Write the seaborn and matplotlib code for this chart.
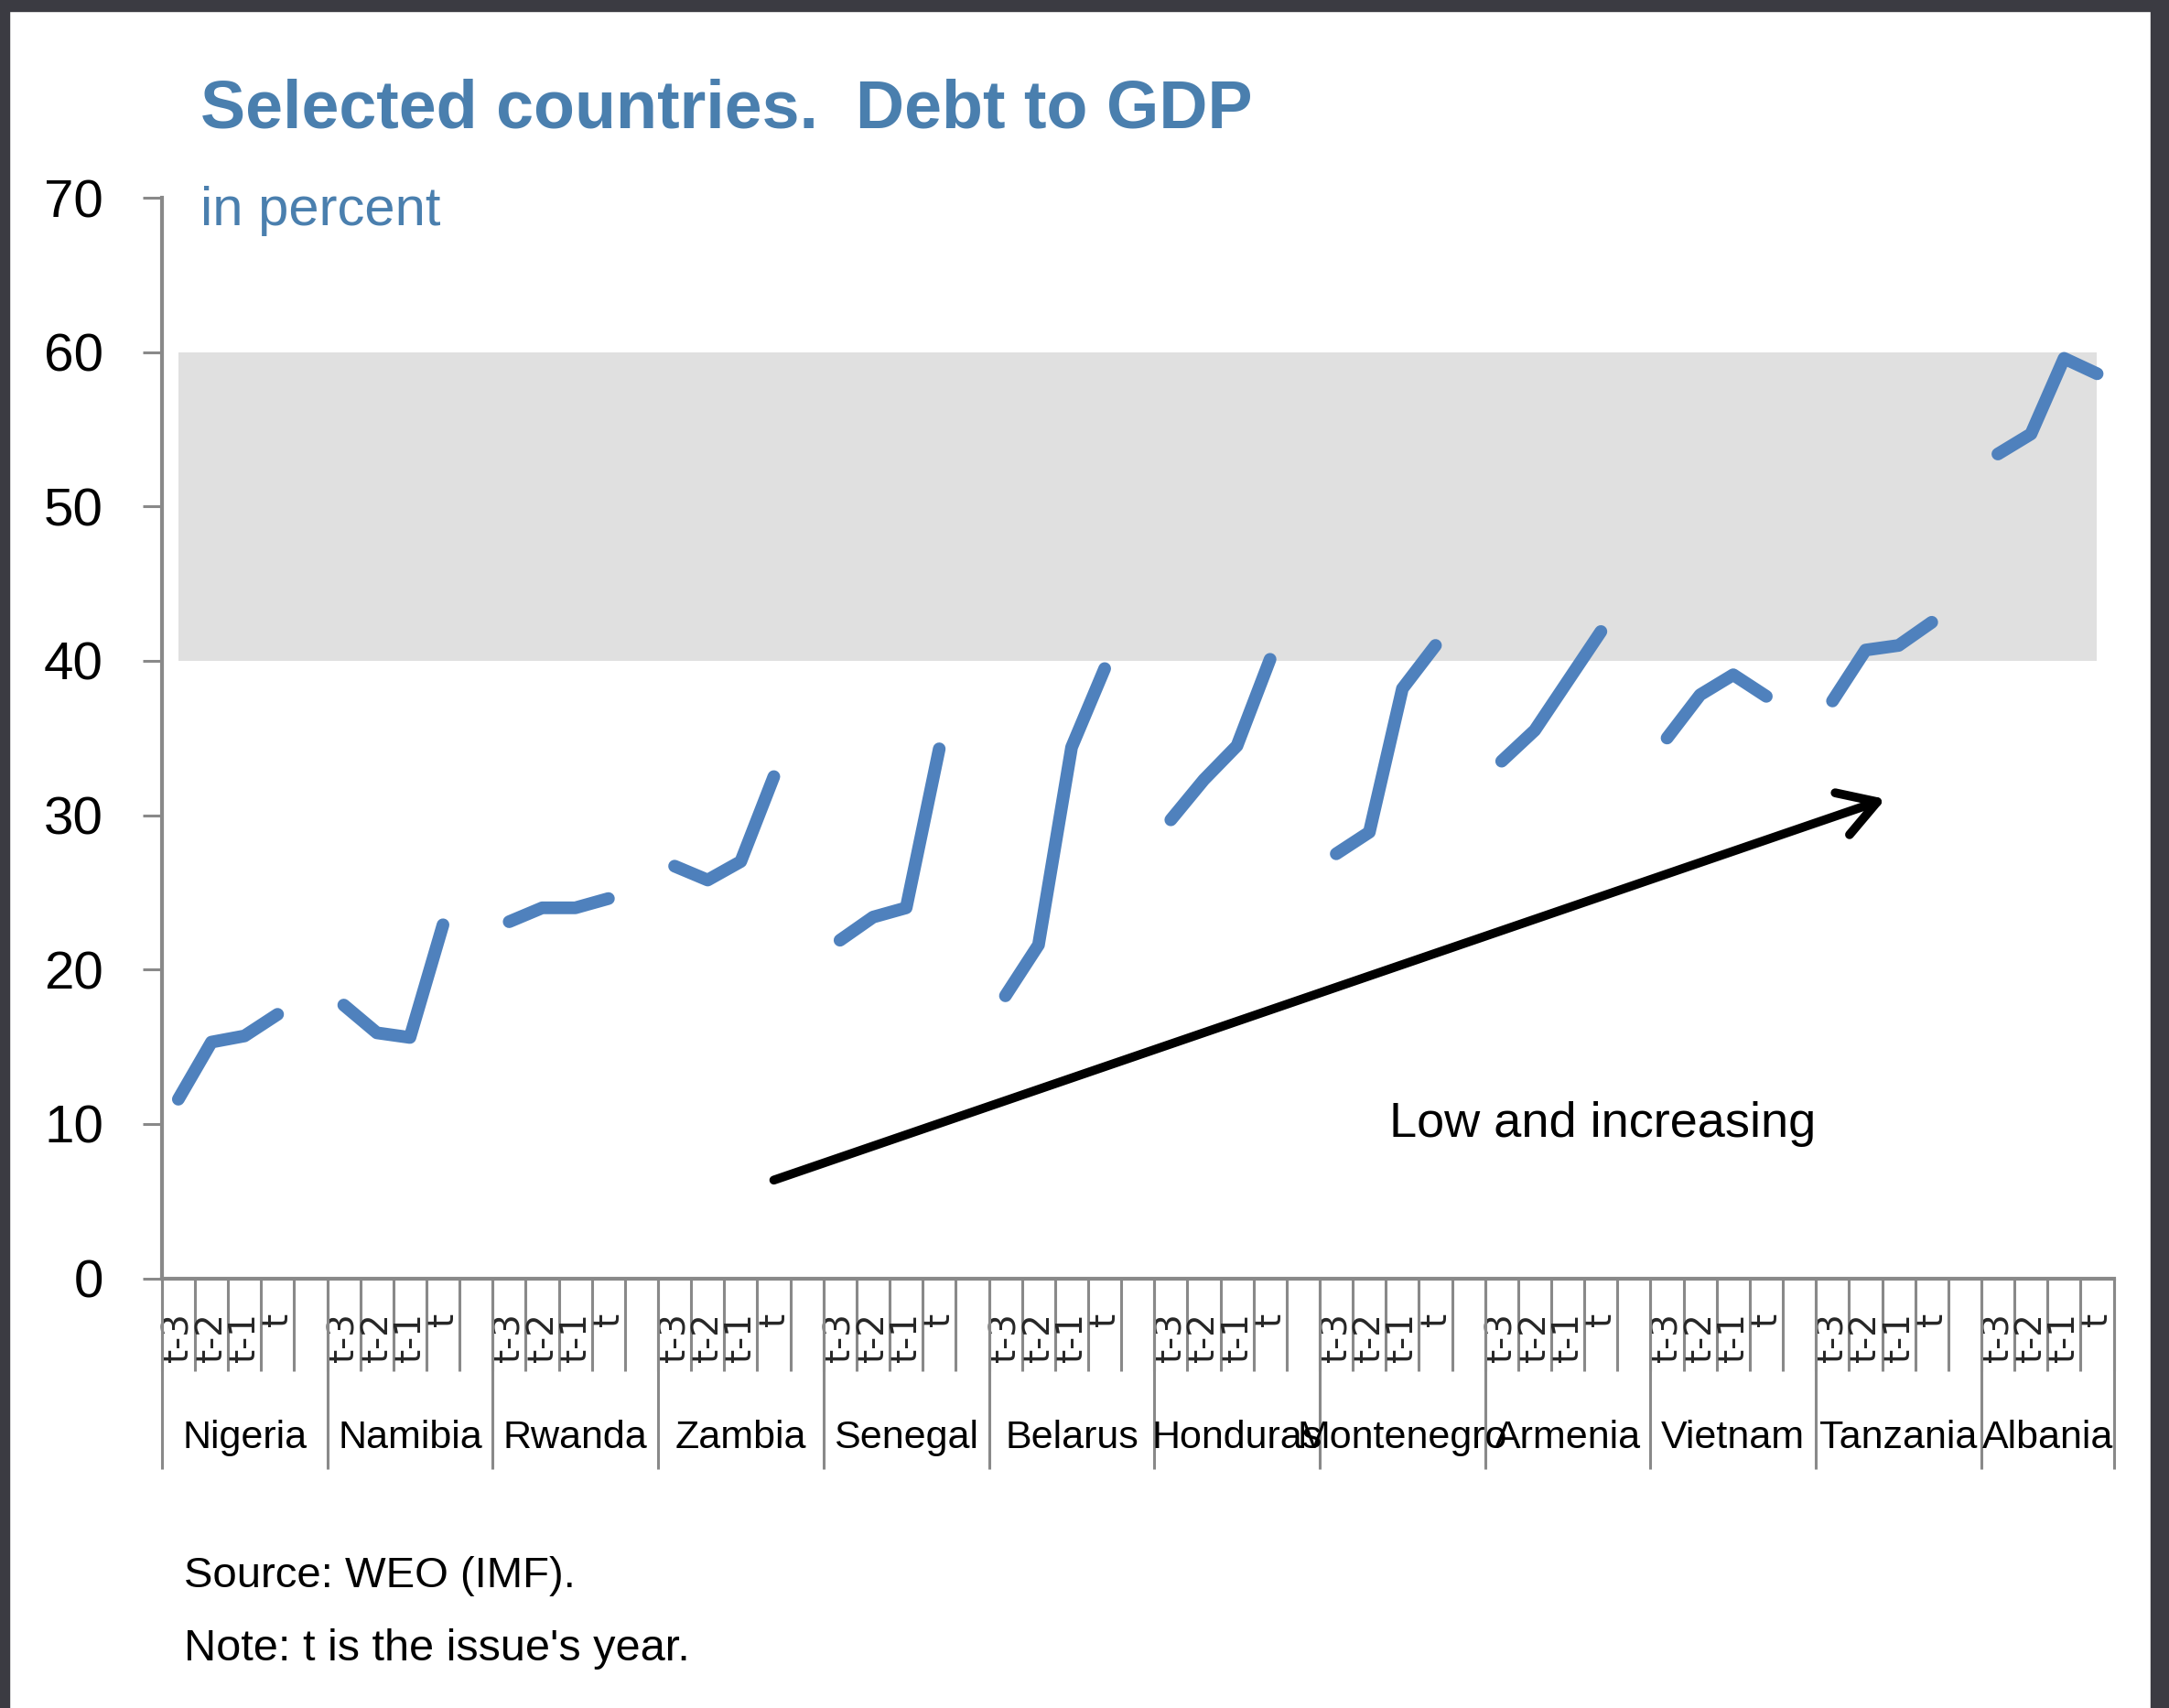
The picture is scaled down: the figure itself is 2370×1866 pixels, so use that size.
import matplotlib
matplotlib.use("Agg")
import matplotlib.pyplot as plt
import matplotlib.transforms as mtransforms
from matplotlib.patches import Rectangle
import numpy as np
import pandas as pd
import seaborn as sns

# data (debt to GDP, percent)
countries = ["Nigeria", "Namibia", "Rwanda", "Zambia", "Senegal", "Belarus",
             "Honduras", "Montenegro", "Armenia", "Vietnam", "Tanzania", "Albania"]
periods = ["t-3", "t-2", "t-1", "t"]
nigeria = [11.6, 15.3, 15.7, 17.1]
namibia = [17.7, 15.9, 15.6, 22.9]
rwanda = [23.1, 24.0, 24.0, 24.6]
zambia = [26.7, 25.8, 27.0, 32.5]
senegal = [21.9, 23.4, 24.0, 34.3]
belarus = [18.3, 21.6, 34.4, 39.5]
honduras = [29.7, 32.3, 34.5, 40.1]
montenegro = [27.5, 28.9, 38.2, 41.0]
armenia = [33.5, 35.5, 38.7, 41.9]
vietnam = [35.0, 37.8, 39.1, 37.7]
tanzania = [37.4, 40.7, 41.0, 42.5]
albania = [53.4, 54.7, 59.6, 58.6]
band_low, band_high = 40, 60

series = [nigeria, namibia, rwanda, zambia, senegal, belarus,
          honduras, montenegro, armenia, vietnam, tanzania, albania]

# every country takes 4 slots plus one empty slot (except the last one)
rows = []
slot = 0
group_edges = [-0.5]
centers = []
for c, vals in zip(countries, series):
    start = slot
    for p, v in zip(periods, vals):
        rows.append({"country": c, "period": p, "slot": slot, "debt": v})
        slot += 1
    if c != countries[-1]:
        slot += 1
    group_edges.append(slot - 0.5)
    centers.append((start - 0.5 + slot - 0.5) / 2)
df = pd.DataFrame(rows)
n_slots = slot

sns.set_theme(style="white")
plt.rcParams["font.family"] = ["Liberation Sans", "DejaVu Sans"]

blue = "#4F81BD"
title_blue = "#4A7FAE"
axis_gray = "#898989"

fig = plt.figure(figsize=(23.7, 18.66), dpi=100)
ax = fig.add_axes([0.0746, 0.2516, 0.8999, 0.6326])

# grey reference band 40-60
ax.fill_between([df["slot"].min(), df["slot"].max()], band_low, band_high,
                color="#E0E0E0", lw=0, zorder=0)

sns.lineplot(data=df, x="slot", y="debt", units="country", estimator=None,
             color=blue, legend=False, ax=ax, zorder=3)
for line in ax.get_lines():
    line.set_linewidth(10)
    line.set_solid_capstyle("round")
    line.set_solid_joinstyle("round")

ax.set_xlim(-0.5, n_slots - 0.5)
ax.set_ylim(0, 70)
ax.set_xlabel("")
ax.set_ylabel("")

for s in ["top", "right"]:
    ax.spines[s].set_visible(False)
for s in ["left", "bottom"]:
    ax.spines[s].set_color(axis_gray)
    ax.spines[s].set_linewidth(3)

ax.set_yticks(range(0, 71, 10))
ax.tick_params(axis="y", which="major", direction="out", length=15, width=2.2,
               color=axis_gray, pad=31, labelsize=42, labelcolor="black", left=True)

# short separators between periods, labels at the period slots
ax.set_xticks(np.arange(-0.5, n_slots, 1.0))
ax.set_xticklabels([])
ax.tick_params(axis="x", which="major", direction="out", length=73, width=2.2,
               color=axis_gray, bottom=True)
ax.set_xticks(df["slot"], minor=True)
ax.set_xticklabels(df["period"], minor=True, rotation=90, va="top",
                   fontsize=28, family="DejaVu Sans")
ax.tick_params(axis="x", which="minor", length=0, pad=27, bottom=True)

# long separators between countries
trans = mtransforms.blended_transform_factory(ax.transData, ax.transAxes)
ax.vlines(group_edges, -0.177, 0, transform=trans, colors=axis_gray, lw=2.2,
          clip_on=False)
for c, x in zip(countries, centers):
    ax.text(x, -0.148, c, transform=trans, ha="center", va="center",
            fontsize=31, color="black")

ax.annotate("", xy=(51.6, 31.05), xytext=(18.0, 6.36),
            arrowprops=dict(arrowstyle="->,head_length=1.45,head_width=0.87",
                            linewidth=7, color="black", shrinkA=0, shrinkB=0,
                            mutation_scale=20))
ax.text(36.6, 10.0, "Low and increasing", ha="left", va="center", fontsize=39,
        color="black")

fig.text(0.0924, 0.9255, "Selected countries.  Debt to GDP", fontsize=53,
         fontweight="bold", color=title_blue, va="baseline")
fig.text(0.0924, 0.868, "in percent", fontsize=43, color=title_blue, va="baseline")
fig.text(0.0848, 0.0707, "Source: WEO (IMF).", fontsize=34, va="baseline", color="black")
fig.text(0.0848, 0.0279, "Note: t is the issue's year.", fontsize=35, va="baseline",
         color="black")

# dark frame around the picture
frame = "#3B3B42"
fig.patches.append(Rectangle((0, 0), 0.0042, 1, transform=fig.transFigure, color=frame, zorder=10))
fig.patches.append(Rectangle((0.9916, 0), 0.0084, 1, transform=fig.transFigure, color=frame, zorder=10))
fig.patches.append(Rectangle((0, 0.9936), 1, 0.0064, transform=fig.transFigure, color=frame, zorder=10))

fig.savefig("out.png", dpi=100)
